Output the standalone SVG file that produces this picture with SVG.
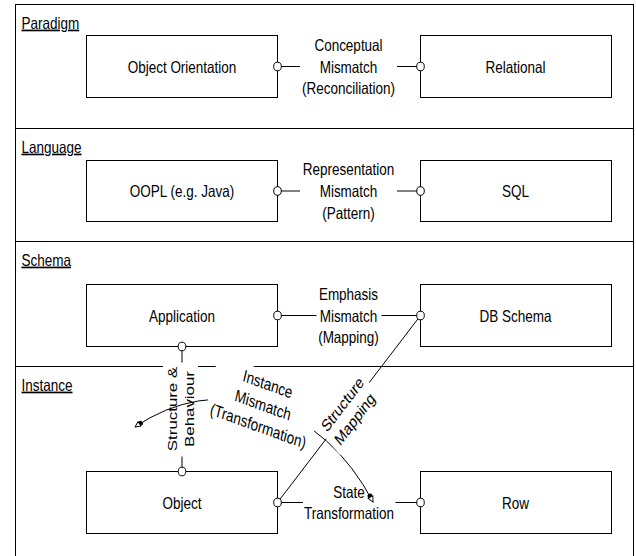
<svg xmlns="http://www.w3.org/2000/svg" width="636" height="556" viewBox="0 0 636 556">
<style>
.t{font-family:"Liberation Sans",Arial,sans-serif;font-size:13.5px;fill:#000}
.m{text-anchor:middle}
.u{text-decoration:underline}
.box{fill:#fff;stroke:#000;stroke-width:1}
.ln{fill:none;stroke:#000;stroke-width:1}
.pin{fill:#fff;stroke:#000;stroke-width:1}
.bg{fill:#fff;stroke:none}
</style>
<defs>
<marker id="tip" markerUnits="userSpaceOnUse" markerWidth="16" markerHeight="10" viewBox="-12 -5 16 10" refX="0" refY="0" orient="auto-start-reverse">
<circle cx="-6.5" cy="0" r="2.5" fill="#000"/>
<path d="M0,0 L-5.5,-2.7 L-5.5,2.7 Z" fill="#fff" stroke="#000" stroke-width="0.9"/>
</marker>
</defs>
<rect width="636" height="556" fill="#fff"/>
<g id="frame">
<rect class="ln" x="15.5" y="4.5" width="618" height="570"/>
<path class="ln" d="M15.5,128.5 H633.5 M15.5,241.5 H633.5 M15.5,366.5 H163 M198,366.5 H633.5"/>
<text class="t u" transform="translate(21.5,28.5) scale(1,1.25)">Paradigm</text>
<text class="t u" transform="translate(21.5,152.5) scale(1,1.25)">Language</text>
<text class="t u" transform="translate(21.5,265.5) scale(1,1.25)">Schema</text>
<text class="t u" transform="translate(21.5,390.5) scale(1,1.25)">Instance</text>
</g>
<g id="n-oo"><rect class="box" x="86.5" y="35.5" width="191" height="62"/><text class="t m" transform="translate(182,66.5) scale(1,1.25)" y="4.8">Object Orientation</text></g>
<g id="n-rel"><rect class="box" x="420.5" y="35.5" width="191" height="62"/><text class="t m" transform="translate(515.5,66.5) scale(1,1.25)" y="4.8">Relational</text></g>
<g id="n-oopl"><rect class="box" x="86.5" y="160.5" width="191" height="61"/><text class="t m" transform="translate(182,191) scale(1,1.25)" y="4.8">OOPL (e.g. Java)</text></g>
<g id="n-sql"><rect class="box" x="420.5" y="160.5" width="191" height="61"/><text class="t m" transform="translate(515.5,191) scale(1,1.25)" y="4.8">SQL</text></g>
<g id="n-app"><rect class="box" x="86.5" y="284.5" width="191" height="62"/><text class="t m" transform="translate(182,315.5) scale(1,1.25)" y="4.8">Application</text></g>
<g id="n-dbs"><rect class="box" x="420.5" y="284.5" width="191" height="62"/><text class="t m" transform="translate(515.5,315.5) scale(1,1.25)" y="4.8">DB Schema</text></g>
<g id="n-obj"><rect class="box" x="86.5" y="471.5" width="191" height="62"/><text class="t m" transform="translate(182,502.5) scale(1,1.25)" y="4.8">Object</text></g>
<g id="n-row"><rect class="box" x="420.5" y="471.5" width="191" height="62"/><text class="t m" transform="translate(515.5,502.5) scale(1,1.25)" y="4.8">Row</text></g>
<g id="connectors">
<path class="ln" d="M277.5,66.5 H300 M397,66.5 H420.5"/>
<path class="ln" d="M277.5,191 H300 M397,191 H420.5"/>
<path class="ln" d="M277.5,315.5 H316.5 M381.5,315.5 H420.5"/>
<path class="ln" d="M277.5,502.5 H303 M395.5,502.5 H420.5"/>
<path class="ln" d="M182,346.5 V362.5 M182,456.5 V471.5"/>
<path class="ln" d="M420.5,315.5 L277.5,502.5"/>
<path class="ln" d="M135,427 A179.8,224.7 0 0,1 373,502" marker-start="url(#tip)" marker-end="url(#tip)"/>
<ellipse class="pin" cx="277.5" cy="66.5" rx="3.8" ry="4.3"/>
<ellipse class="pin" cx="420.5" cy="66.5" rx="3.8" ry="4.3"/>
<ellipse class="pin" cx="277.5" cy="191" rx="3.8" ry="4.3"/>
<ellipse class="pin" cx="420.5" cy="191" rx="3.8" ry="4.3"/>
<ellipse class="pin" cx="277.5" cy="315.5" rx="3.8" ry="4.3"/>
<ellipse class="pin" cx="420.5" cy="315.5" rx="3.8" ry="4.3"/>
<ellipse class="pin" cx="182" cy="346.5" rx="3.8" ry="4.3"/>
<ellipse class="pin" cx="182" cy="471.5" rx="3.8" ry="4.3"/>
<ellipse class="pin" cx="277.5" cy="502.5" rx="3.8" ry="4.3"/>
<ellipse class="pin" cx="420.5" cy="502.5" rx="3.8" ry="4.3"/>
</g>
<g id="labels">
<g transform="translate(348.5,66.5) scale(1,1.25)"><text class="t m" y="-12.6">Conceptual</text><text class="t m" y="4.8">Mismatch</text><text class="t m" y="22.2">(Reconciliation)</text></g>
<g transform="translate(348.5,191) scale(1,1.25)"><text class="t m" y="-12.6">Representation</text><text class="t m" y="4.8">Mismatch</text><text class="t m" y="22.2">(Pattern)</text></g>
<g transform="translate(348.5,315.5) scale(1,1.25)"><text class="t m" y="-12.6">Emphasis</text><text class="t m" y="4.8">Mismatch</text><text class="t m" y="22.2">(Mapping)</text></g>
<g transform="translate(349,502.5) scale(1,1.25)"><text class="t m" y="-3.9">State</text><text class="t m" y="13.5">Transformation</text></g>
<g transform="translate(181,409) scale(1,1.25) rotate(-90)"><text class="t m" y="-4.3">Structure &amp;</text><text class="t m" y="13">Behaviour</text></g>
<g transform="translate(263,405) scale(1,1.25) rotate(16.2)"><rect class="bg" x="-54" y="-27" width="109" height="54"/><text class="t m" y="-12.7">Instance</text><text class="t m" y="4.7">Mismatch</text><text class="t m" y="22.1">(Transformation)</text></g>
<g transform="translate(348.5,411.5) scale(1,1.25) rotate(-46.4)"><rect class="bg" x="-31" y="-18" width="62" height="36"/><text class="t m" y="-3.7">Structure</text><text class="t m" y="13.3">Mapping</text></g>
</g>
</svg>
